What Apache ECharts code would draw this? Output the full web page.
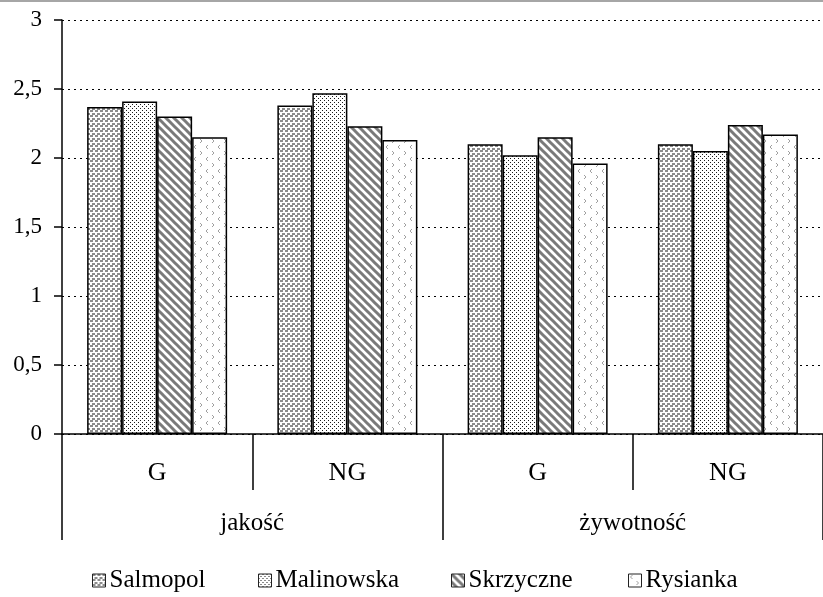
<!DOCTYPE html>
<html>
<head>
<meta charset="utf-8">
<script src="https://cdn.jsdelivr.net/npm/echarts@6/dist/echarts.min.js"></script>
<style>
html,body{margin:0;padding:0;background:#fff;}
#chart{width:823px;height:597px;}
</style>
</head>
<body>
<div id="chart"></div>
<script>
var categories = ['G', 'NG', 'G', 'NG'];
var groups = ['jakość', 'żywotność'];
var seriesNames = ['Salmopol', 'Malinowska', 'Skrzyczne', 'Rysianka'];
var salmopol = [2.37, 2.38, 2.10, 2.10];
var malinowska = [2.41, 2.47, 2.02, 2.05];
var skrzyczne = [2.30, 2.23, 2.15, 2.24];
var rysianka = [2.15, 2.13, 1.96, 2.17];
var yTicks = [0, 0.5, 1, 1.5, 2, 2.5, 3];

function makeTile(w, h, draw) {
  var c = document.createElement('canvas');
  c.width = w; c.height = h;
  var ctx = c.getContext('2d');
  ctx.fillStyle = '#fff';
  ctx.fillRect(0, 0, w, h);
  draw(ctx);
  return c;
}
var patSalmopol = makeTile(5, 5, function (ctx) {
  ctx.fillStyle = '#8c8c8c';
  ctx.fillRect(0, 0, 3, 2);
  ctx.fillRect(2, 3, 3, 2);
});
var patMalinowska = makeTile(4, 4, function (ctx) {
  ctx.fillStyle = '#1a1a1a';
  ctx.fillRect(0, 0, 1, 1);
  ctx.fillRect(2, 2, 1, 1);
});
var patSkrzyczne = makeTile(8, 8, function (ctx) {
  ctx.strokeStyle = '#7a7a7a';
  ctx.lineWidth = 3;
  for (var k = -2; k <= 2; k++) {
    ctx.beginPath();
    ctx.moveTo(k * 8 - 2, -2);
    ctx.lineTo(k * 8 + 10, 10);
    ctx.stroke();
  }
});
var patRysianka = makeTile(12, 12, function (ctx) {
  ctx.strokeStyle = '#a0a0a0';
  ctx.lineWidth = 1;
  ctx.beginPath();
  ctx.moveTo(4, 1); ctx.lineTo(2, 3); ctx.lineTo(4, 5);
  ctx.moveTo(8, 7); ctx.lineTo(10, 9); ctx.lineTo(8, 11);
  ctx.stroke();
});
var patterns = [patSalmopol, patMalinowska, patSkrzyczne, patRysianka];
var values = [salmopol, malinowska, skrzyczne, rysianka];
var legendLeft = [92, 258, 451, 628];

var font = 'Liberation Serif';
var chart = echarts.init(document.getElementById('chart'));
var series = seriesNames.map(function (name, i) {
  return {
    name: name,
    type: 'bar',
    xAxisIndex: 0,
    data: values[i],
    barWidth: 35,
    barGap: '0%',
    itemStyle: {
      color: { image: patterns[i], repeat: 'repeat' },
      borderColor: '#000',
      borderWidth: 1.5
    }
  };
});
var legends = seriesNames.map(function (name, i) {
  return {
    top: 568,
    left: legendLeft[i],
    padding: 0,
    itemWidth: 13,
    itemHeight: 13,
    itemGap: 0,
    icon: 'rect',
    textStyle: { fontFamily: font, fontSize: 25, color: '#000', padding: [0, 0, 0, -1] },
    itemStyle: { borderColor: '#222', borderWidth: 1 },
    data: [name]
  };
});

chart.setOption({
  animation: false,
  backgroundColor: '#fff',
  textStyle: { fontFamily: font },
  graphic: [{
    type: 'rect',
    shape: { x: 0, y: 0, width: 823, height: 2 },
    style: { fill: '#a6a6a6' }
  }],
  legend: legends,
  grid: { left: 62, top: 20, width: 766, bottom: 163, containLabel: false },
  xAxis: [{
    type: 'category',
    data: categories,
    position: 'bottom',
    axisLine: { lineStyle: { color: '#000', width: 1.5 } },
    axisTick: { show: true, length: 56, interval: 0, lineStyle: { color: '#000', width: 1.5 } },
    axisLabel: { margin: 26, fontSize: 26, color: '#000', fontFamily: font, interval: 0 },
    splitLine: { show: false }
  }, {
    type: 'category',
    data: groups,
    position: 'bottom',
    offset: 0,
    axisLine: { show: false },
    axisTick: { show: true, length: 106, interval: 0, lineStyle: { color: '#000', width: 1.5 } },
    axisLabel: { margin: 77, fontSize: 25, color: '#000', fontFamily: font, interval: 0 },
    splitLine: { show: false }
  }],
  yAxis: {
    type: 'value',
    min: yTicks[0],
    max: yTicks[yTicks.length - 1],
    interval: 0.5,
    axisLine: { show: true, lineStyle: { color: '#000', width: 1.5 } },
    axisTick: { show: true, length: 8, lineStyle: { color: '#000', width: 1.5 } },
    axisLabel: {
      margin: 20, fontSize: 23, color: '#000', fontFamily: font,
      formatter: function (v) { return String(v).replace('.', ','); }
    },
    splitLine: { show: true, lineStyle: { color: '#000', width: 1.2, type: [2, 4] } }
  },
  series: series
});
</script>
</body>
</html>
